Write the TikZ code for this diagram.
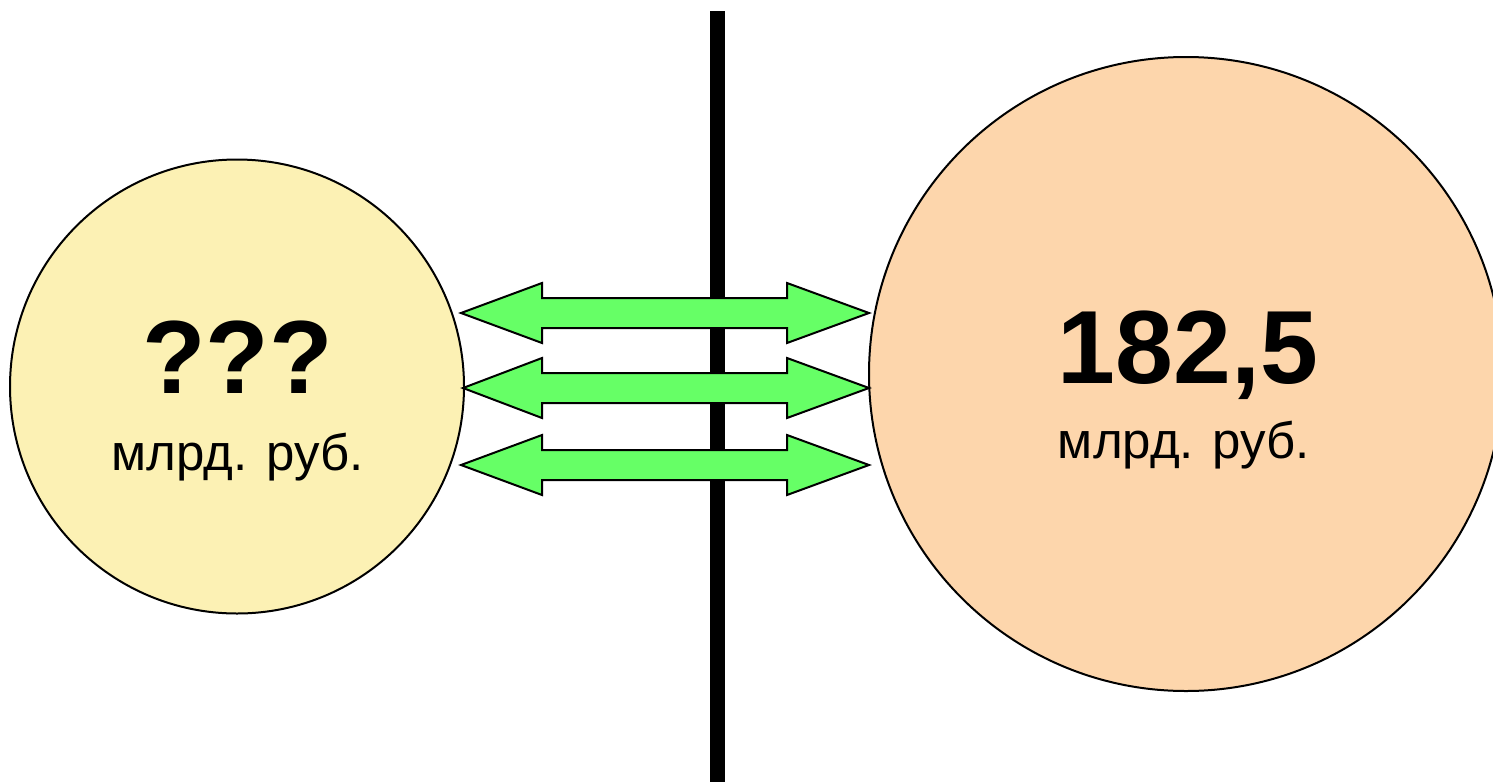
\documentclass[tikz,border=0pt]{standalone}
\usepackage{fontspec}
\setmainfont{Liberation Sans}
\definecolor{leftfill}{HTML}{FCF1B4}
\definecolor{rightfill}{HTML}{FDD6AC}
\definecolor{arrowgreen}{HTML}{66FF66}
\tikzset{
  bubble/.style={circle, draw=black, line width=2pt, inner sep=0pt},
  bigtext/.style={anchor=base, inner sep=0pt, font=\fontsize{104}{104}\selectfont\bfseries},
  unittext/.style={anchor=base, inner sep=0pt, font=\fontsize{51}{51}\selectfont},
  blockarrow/.style={draw=black, line width=2pt, fill=arrowgreen, line join=miter},
  wall/.style={line width=15pt, black}
}
\newcommand\dblblockarrow[3]{% #1 left tip name, #2 right tip name, #3 y
  \draw[blockarrow] (#1) -- (542,{#3-30}) -- (542,{#3-15}) -- (787,{#3-15}) -- (787,{#3-30})
    -- (#2) -- (787,{#3+30}) -- (787,{#3+15}) -- (542,{#3+15}) -- (542,{#3+30}) -- cycle;
}
\begin{document}
\begin{tikzpicture}[x=1pt,y=-1pt]
\useasboundingbox (0,0) rectangle (1493,782);
\clip (0,0) rectangle (1493,782);
% vertical wall
\coordinate (wtop) at (717.5,11);
\coordinate (wbot) at (717.5,782);
\draw[wall] (wtop) -- (wbot);
% circles
\node[bubble, fill=leftfill, minimum size=454pt] (L) at (237,386.5) {};
\node[bubble, fill=rightfill, minimum size=634pt] (R) at (1186,374) {};
% texts
\node[bigtext] (q) at (237.5,393) {???};
\node[unittext] (lu) at (237.5,470) {млрд. руб.};
\node[bigtext] (v) at (1188,383) {182,5};
\node[unittext] (ru) at (1184,458) {млрд. руб.};
% arrows
\coordinate (a1l) at (461,313); \coordinate (a1r) at (869,313);
\coordinate (a2l) at (463,388); \coordinate (a2r) at (869,388);
\coordinate (a3l) at (461,465); \coordinate (a3r) at (869,465);
\dblblockarrow{a1l}{a1r}{313}
\dblblockarrow{a2l}{a2r}{388}
\dblblockarrow{a3l}{a3r}{465}
\end{tikzpicture}
\end{document}
